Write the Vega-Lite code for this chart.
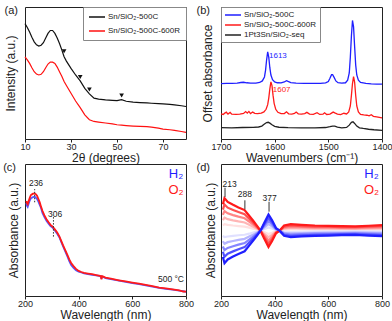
{
  "$schema": "https://vega.github.io/schema/vega-lite/v6.json",
  "background": "white",
  "padding": {"left": 2, "top": 4, "right": 0, "bottom": 0},
  "columns": 2,
  "spacing": {"row": -6, "column": 1},
  "resolve": {"scale": {"color": "independent"}, "legend": {"color": "independent"}},
  "config": {
    "view": {"stroke": "#222", "strokeWidth": 1},
    "axis": {"labelFont": "Liberation Sans", "titleFont": "Liberation Sans", "labelFontSize": 9, "titleFontSize": 12, "titleFontWeight": "normal", "labelColor": "#222", "titleColor": "#222", "grid": false, "domain": false, "tickColor": "#222", "tickSize": 3, "labelPadding": 0, "titlePadding": 1, "labelFlush": false, "labelOverlap": false},
    "axisY": {"labels": false, "ticks": false},
    "legend": {"labelFont": "Liberation Sans", "labelFontSize": 8, "labelColor": "#222", "symbolType": "M-1,0H3", "symbolSize": 64, "symbolStrokeWidth": 1.5, "labelOffset": 10, "strokeColor": "#888", "padding": 4, "offset": 0, "cornerRadius": 0, "rowPadding": 4, "title": null},
    "text": {"font": "Liberation Sans"}
  },
  "datasets": {
    "a_k": [{"x":10,"y":87.4},{"x":11,"y":84.5},{"x":12,"y":81},{"x":13,"y":77},{"x":14,"y":73.6},{"x":15,"y":71.3},{"x":16,"y":70.4},{"x":17,"y":71},{"x":18,"y":72.9},{"x":19,"y":76.5},{"x":20,"y":80},{"x":21,"y":82.2},{"x":22,"y":82.2},{"x":23,"y":80},{"x":24,"y":76.5},{"x":25,"y":72.4},{"x":26,"y":67.5},{"x":27,"y":62.3},{"x":28,"y":59},{"x":30,"y":53.5},{"x":32,"y":48.5},{"x":34,"y":44},{"x":36,"y":38.4},{"x":38,"y":34.2},{"x":40,"y":30.9},{"x":42,"y":30.2},{"x":45,"y":29.6},{"x":48,"y":29.3},{"x":50,"y":29.1},{"x":52,"y":29.8},{"x":54,"y":28.6},{"x":57,"y":28},{"x":60,"y":27.6},{"x":63,"y":27.3},{"x":65,"y":27.1},{"x":68,"y":26.8},{"x":70,"y":26.6},{"x":73,"y":26.2},{"x":75,"y":25.9},{"x":78,"y":25.2},{"x":80,"y":24.6}],
    "a_r": [{"x":10,"y":62.3},{"x":11,"y":60},{"x":12,"y":57.3},{"x":13,"y":54},{"x":14,"y":51},{"x":15,"y":49.2},{"x":16,"y":48.5},{"x":17,"y":49},{"x":18,"y":51},{"x":19,"y":54},{"x":20,"y":56.8},{"x":21,"y":58.3},{"x":22,"y":58.2},{"x":23,"y":57.3},{"x":24,"y":54.5},{"x":25,"y":51},{"x":26,"y":47.5},{"x":27,"y":43.5},{"x":28,"y":40.5},{"x":30,"y":34.7},{"x":32,"y":28.8},{"x":34,"y":23.8},{"x":36,"y":18.3},{"x":38,"y":14.6},{"x":40,"y":13.3},{"x":42,"y":12.8},{"x":45,"y":12.1},{"x":48,"y":11.4},{"x":50,"y":10.8},{"x":52,"y":10.5},{"x":54,"y":10.2},{"x":57,"y":9.8},{"x":60,"y":9.5},{"x":63,"y":9.3},{"x":65,"y":9},{"x":68,"y":8.2},{"x":70,"y":7.5},{"x":73,"y":7},{"x":75,"y":6.5},{"x":78,"y":5.7},{"x":80,"y":5}],
    "a_tri": [{"x":27,"y":66.5},{"x":34,"y":47},{"x":38,"y":37.5},{"x":52,"y":33}],
    "b_b": [{"x":1700,"y":42},{"x":1690,"y":42.1},{"x":1680,"y":42.2},{"x":1670,"y":42.4},{"x":1663,"y":42.8},{"x":1658,"y":43},{"x":1652,"y":42.6},{"x":1645,"y":42.3},{"x":1635,"y":42.3},{"x":1628,"y":42.8},{"x":1623,"y":44},{"x":1619,"y":47},{"x":1617,"y":52},{"x":1615,"y":60},{"x":1613,"y":66},{"x":1611,"y":62},{"x":1609,"y":54},{"x":1607,"y":48.5},{"x":1604,"y":45},{"x":1600,"y":43.2},{"x":1595,"y":42.6},{"x":1588,"y":42.5},{"x":1582,"y":43.2},{"x":1578,"y":44.2},{"x":1575,"y":43.6},{"x":1570,"y":42.7},{"x":1560,"y":42.4},{"x":1545,"y":42.2},{"x":1530,"y":42.1},{"x":1515,"y":42.1},{"x":1505,"y":42.5},{"x":1500,"y":43.6},{"x":1497,"y":46},{"x":1494,"y":48.7},{"x":1492,"y":48.8},{"x":1489,"y":46.5},{"x":1486,"y":44},{"x":1482,"y":42.7},{"x":1475,"y":42.3},{"x":1468,"y":42.6},{"x":1464,"y":44.5},{"x":1461,"y":50},{"x":1459,"y":62},{"x":1457,"y":78},{"x":1455,"y":89.8},{"x":1453,"y":85},{"x":1451,"y":70},{"x":1449,"y":56},{"x":1447,"y":48.5},{"x":1444,"y":44.5},{"x":1440,"y":42.8},{"x":1430,"y":42.1},{"x":1420,"y":41.8},{"x":1410,"y":41.6},{"x":1400,"y":41.5}],
    "b_r": [{"x":1700,"y":19},{"x":1696,"y":18.6},{"x":1693,"y":19.6},{"x":1690,"y":20.3},{"x":1687,"y":18.9},{"x":1683,"y":20.1},{"x":1680,"y":18.8},{"x":1672,"y":18.6},{"x":1665,"y":18.9},{"x":1658,"y":19.4},{"x":1654,"y":20.8},{"x":1651,"y":19.6},{"x":1648,"y":20.9},{"x":1645,"y":19.3},{"x":1641,"y":20.4},{"x":1637,"y":19.4},{"x":1632,"y":19.2},{"x":1625,"y":19.6},{"x":1620,"y":20.5},{"x":1616,"y":22.5},{"x":1613,"y":26},{"x":1611,"y":31},{"x":1609,"y":38},{"x":1607,"y":43.3},{"x":1605,"y":40.5},{"x":1603,"y":33},{"x":1601,"y":27},{"x":1598,"y":22.5},{"x":1594,"y":20.2},{"x":1588,"y":19.2},{"x":1582,"y":19.3},{"x":1578,"y":20.6},{"x":1574,"y":19.1},{"x":1568,"y":18.8},{"x":1563,"y":19.4},{"x":1560,"y":20.4},{"x":1556,"y":19.1},{"x":1550,"y":18.8},{"x":1544,"y":19.3},{"x":1540,"y":20.2},{"x":1535,"y":18.9},{"x":1528,"y":18.7},{"x":1521,"y":19.9},{"x":1516,"y":18.6},{"x":1510,"y":18.8},{"x":1507,"y":19.9},{"x":1503,"y":18.6},{"x":1497,"y":18.9},{"x":1491,"y":20.4},{"x":1487,"y":19.6},{"x":1483,"y":18.9},{"x":1477,"y":18.5},{"x":1471,"y":19.5},{"x":1466,"y":19},{"x":1462,"y":20.5},{"x":1459,"y":25},{"x":1457,"y":33},{"x":1455,"y":42},{"x":1453,"y":47.3},{"x":1451,"y":43},{"x":1449,"y":33},{"x":1447,"y":25},{"x":1444,"y":20.5},{"x":1440,"y":18.7},{"x":1434,"y":18.2},{"x":1428,"y":18},{"x":1424,"y":17.6},{"x":1420,"y":18.4},{"x":1416,"y":17.2},{"x":1410,"y":16.8},{"x":1405,"y":16.4},{"x":1400,"y":16}],
    "b_k": [{"x":1700,"y":8.6},{"x":1680,"y":8.5},{"x":1660,"y":8.7},{"x":1640,"y":8.8},{"x":1630,"y":9.1},{"x":1624,"y":9.8},{"x":1619,"y":11.3},{"x":1615,"y":12.5},{"x":1612,"y":12.7},{"x":1609,"y":12},{"x":1605,"y":10.8},{"x":1600,"y":9.6},{"x":1592,"y":8.9},{"x":1575,"y":8.6},{"x":1550,"y":8.5},{"x":1525,"y":8.5},{"x":1505,"y":8.7},{"x":1497,"y":9.3},{"x":1492,"y":9.8},{"x":1488,"y":9.7},{"x":1483,"y":9},{"x":1475,"y":8.5},{"x":1466,"y":8.8},{"x":1461,"y":10.5},{"x":1457,"y":12.6},{"x":1454,"y":13},{"x":1451,"y":11.8},{"x":1447,"y":9.8},{"x":1442,"y":8.5},{"x":1435,"y":8},{"x":1425,"y":7.4},{"x":1415,"y":7},{"x":1400,"y":6.6}],
    "c": [{"x":205,"H2":70.5,"O2":72},{"x":207,"H2":68.5,"O2":70.5},{"x":210,"H2":67.5,"O2":69.5},{"x":213,"H2":69.5,"O2":71.5},{"x":218,"H2":72.5,"O2":74.5},{"x":222,"H2":74,"O2":76.5},{"x":226,"H2":74.5,"O2":77},{"x":230,"H2":75,"O2":77.5},{"x":236,"H2":75.2,"O2":77.7},{"x":240,"H2":74.5,"O2":77.2},{"x":245,"H2":73.5,"O2":75.9},{"x":250,"H2":71.5,"O2":73.5},{"x":255,"H2":69,"O2":70.9},{"x":260,"H2":66.5,"O2":67.5},{"x":265,"H2":63,"O2":64.6},{"x":272,"H2":60,"O2":61.2},{"x":280,"H2":57,"O2":58.2},{"x":288,"H2":54.8,"O2":55.8},{"x":295,"H2":53,"O2":53.9},{"x":300,"H2":52.3,"O2":53},{"x":306,"H2":51,"O2":51.9},{"x":312,"H2":49.5,"O2":50.3},{"x":320,"H2":47.2,"O2":48.1},{"x":328,"H2":44.5,"O2":45.2},{"x":335,"H2":41,"O2":41.8},{"x":342,"H2":37.5,"O2":38.3},{"x":350,"H2":33.8,"O2":34.7},{"x":358,"H2":30,"O2":31.2},{"x":365,"H2":26.5,"O2":27.8},{"x":372,"H2":23.5,"O2":25},{"x":380,"H2":21.5,"O2":22.8},{"x":390,"H2":19.5,"O2":20.5},{"x":400,"H2":18.5,"O2":19},{"x":410,"H2":17.8,"O2":18.2},{"x":420,"H2":17.2,"O2":17.5},{"x":435,"H2":16.6,"O2":17},{"x":450,"H2":16,"O2":16.5},{"x":465,"H2":15.6,"O2":15.9},{"x":480,"H2":15,"O2":15.2},{"x":483,"H2":14.5,"O2":14.8},{"x":485,"H2":13,"O2":12.7},{"x":487,"H2":14.8,"O2":15},{"x":490,"H2":14.6,"O2":14.8},{"x":500,"H2":13.6,"O2":13.9},{"x":520,"H2":12.8,"O2":13.1},{"x":550,"H2":11.6,"O2":11.9},{"x":575,"H2":10.7,"O2":11},{"x":600,"H2":9.8,"O2":10.1},{"x":625,"H2":9,"O2":9.3},{"x":650,"H2":8.1,"O2":8.4},{"x":675,"H2":7.1,"O2":7.4},{"x":700,"H2":6.1,"O2":6.3},{"x":725,"H2":5.4,"O2":5.7},{"x":750,"H2":4.8,"O2":5.1},{"x":775,"H2":4,"O2":4.2},{"x":790,"H2":3.6,"O2":3.4},{"x":800,"H2":3.2,"O2":3.3}],
    "d": [
      {"x":207,"r10":69.5,"r8":65.5,"r6":61.5,"r4":57.5,"r2":53.5,"b2":45.5,"b4":41.5,"b6":37.5,"b8":33.5,"b10":29.5},
      {"x":213,"r10":74.2,"r8":69.3,"r6":64.3,"r4":59.4,"r2":54.4,"b2":44.6,"b4":39.6,"b6":34.7,"b8":29.7,"b10":24.8},
      {"x":225,"r10":71.3,"r8":66.9,"r6":62.6,"r4":58.2,"r2":53.9,"b2":45.1,"b4":40.8,"b6":36.4,"b8":32.1,"b10":27.7},
      {"x":245,"r10":69.1,"r8":65.2,"r6":61.3,"r4":57.3,"r2":53.4,"b2":45.6,"b4":41.7,"b6":37.7,"b8":33.8,"b10":29.9},
      {"x":265,"r10":67.1,"r8":63.6,"r6":60.1,"r4":56.5,"r2":53.0,"b2":46.0,"b4":42.5,"b6":38.9,"b8":35.4,"b10":31.9},
      {"x":288,"r10":65.1,"r8":62.0,"r6":58.9,"r4":55.7,"r2":52.6,"b2":46.4,"b4":43.3,"b6":40.1,"b8":37.0,"b10":33.9},
      {"x":305,"r10":60.8,"r8":58.5,"r6":56.3,"r4":54.0,"r2":51.8,"b2":47.2,"b4":45.0,"b6":42.7,"b8":40.5,"b10":38.2},
      {"x":320,"r10":57.0,"r8":55.5,"r6":54.0,"r4":52.5,"r2":51.0,"b2":48.0,"b4":46.5,"b6":45.0,"b8":43.5,"b10":42.0},
      {"x":335,"r10":53.0,"r8":52.3,"r6":51.6,"r4":50.9,"r2":50.2,"b2":48.8,"b4":48.1,"b6":47.4,"b8":46.7,"b10":46.0},
      {"x":347,"r10":49.5,"r8":49.5,"r6":49.5,"r4":49.5,"r2":49.5,"b2":49.5,"b4":49.5,"b6":49.5,"b8":49.5,"b10":49.5},
      {"x":360,"r10":44.0,"r8":45.1,"r6":46.2,"r4":47.3,"r2":48.4,"b2":50.6,"b4":51.7,"b6":52.8,"b8":53.9,"b10":55.0},
      {"x":377,"r10":37.2,"r8":39.7,"r6":42.1,"r4":44.6,"r2":47.0,"b2":52.0,"b4":54.4,"b6":56.9,"b8":59.3,"b10":61.8},
      {"x":390,"r10":41.5,"r8":43.1,"r6":44.7,"r4":46.3,"r2":47.9,"b2":51.1,"b4":52.7,"b6":54.3,"b8":55.9,"b10":57.5},
      {"x":405,"r10":47.5,"r8":47.9,"r6":48.3,"r4":48.7,"r2":49.1,"b2":49.9,"b4":50.3,"b6":50.7,"b8":51.1,"b10":51.5},
      {"x":418,"r10":49.5,"r8":49.5,"r6":49.5,"r4":49.5,"r2":49.5,"b2":49.5,"b4":49.5,"b6":49.5,"b8":49.5,"b10":49.5},
      {"x":435,"r10":53.4,"r8":52.6,"r6":51.8,"r4":51.1,"r2":50.3,"b2":48.7,"b4":47.9,"b6":47.2,"b8":46.4,"b10":45.6},
      {"x":460,"r10":54.4,"r8":53.4,"r6":52.4,"r4":51.5,"r2":50.5,"b2":48.5,"b4":47.5,"b6":46.6,"b8":45.6,"b10":44.6},
      {"x":500,"r10":53.9,"r8":53.0,"r6":52.1,"r4":51.3,"r2":50.4,"b2":48.6,"b4":47.7,"b6":46.9,"b8":46.0,"b10":45.1},
      {"x":550,"r10":53.4,"r8":52.6,"r6":51.8,"r4":51.1,"r2":50.3,"b2":48.7,"b4":47.9,"b6":47.2,"b8":46.4,"b10":45.6},
      {"x":600,"r10":53.2,"r8":52.5,"r6":51.7,"r4":51.0,"r2":50.2,"b2":48.8,"b4":48.0,"b6":47.3,"b8":46.5,"b10":45.8},
      {"x":650,"r10":52.9,"r8":52.2,"r6":51.5,"r4":50.9,"r2":50.2,"b2":48.8,"b4":48.1,"b6":47.5,"b8":46.8,"b10":46.1},
      {"x":700,"r10":52.7,"r8":52.1,"r6":51.4,"r4":50.8,"r2":50.1,"b2":48.9,"b4":48.2,"b6":47.6,"b8":46.9,"b10":46.3},
      {"x":750,"r10":53.2,"r8":52.5,"r6":51.7,"r4":51.0,"r2":50.2,"b2":48.8,"b4":48.0,"b6":47.3,"b8":46.5,"b10":45.8},
      {"x":800,"r10":53.7,"r8":52.9,"r6":52.0,"r4":51.2,"r2":50.3,"b2":48.7,"b4":47.8,"b6":47.0,"b8":46.1,"b10":45.3}
    ]
  },
  "concat": [
    {
      "width": 161, "height": 132,
      "layer": [
        {"data": {"name": "a_k"}, "mark": {"type": "line", "strokeWidth": 1.2},
         "encoding": {
           "x": {"field": "x", "type": "quantitative", "scale": {"domain": [10, 80], "nice": false}, "axis": {"title": "2θ (degrees)", "values": [10,15,20,25,30,35,40,45,50,55,60,65,70,75,80], "labelExpr": "datum.value % 10 == 0 ? datum.label : ''"}},
           "y": {"field": "y", "type": "quantitative", "scale": {"domain": [0, 100]}, "axis": {"title": "Intensity (a.u.)", "titlePadding": 8}},
           "color": {"datum": "Sn/SiO₂-500C", "type": "nominal", "scale": {"domain": ["Sn/SiO₂-500C", "Sn/SiO₂-500C-600R"], "range": ["#111111", "#ff1010"]}, "legend": {"orient": "top-right", "rowPadding": 5, "padding": 5}}
         }},
        {"data": {"name": "a_r"}, "mark": {"type": "line", "strokeWidth": 1.2},
         "encoding": {"x": {"field": "x", "type": "quantitative"}, "y": {"field": "y", "type": "quantitative"}, "color": {"datum": "Sn/SiO₂-500C-600R", "type": "nominal"}}},
        {"data": {"name": "a_tri"}, "mark": {"type": "point", "shape": "triangle-down", "filled": true, "color": "#111111", "size": 22, "opacity": 1},
         "encoding": {"x": {"field": "x", "type": "quantitative"}, "y": {"field": "y", "type": "quantitative"}}},
        {"data": {"values": [{"t": "(a)"}]}, "mark": {"type": "text", "fontSize": 11, "align": "right", "baseline": "middle", "dx": -7, "dy": 4, "color": "#222"},
         "encoding": {"x": {"datum": 10, "type": "quantitative"}, "y": {"datum": 100, "type": "quantitative"}, "text": {"field": "t"}}}
      ]
    },
    {
      "width": 161, "height": 132,
      "layer": [
        {"data": {"name": "b_b"}, "mark": {"type": "line", "strokeWidth": 1.3},
         "encoding": {
           "x": {"field": "x", "type": "quantitative", "scale": {"domain": [1400, 1700], "reverse": true, "nice": false, "zero": false}, "axis": {"title": "Wavenumbers (cm⁻¹)", "format": "d", "values": [1400,1450,1500,1550,1600,1650,1700], "labelExpr": "datum.value % 100 == 0 ? datum.label : ''"}},
           "y": {"field": "y", "type": "quantitative", "scale": {"domain": [0, 100]}, "axis": {"title": "Offset absorbance", "titlePadding": 7}},
           "color": {"datum": "Sn/SiO₂-500C", "type": "nominal", "scale": {"domain": ["Sn/SiO₂-500C", "Sn/SiO₂-500C-600R", "1Pt3Sn/SiO₂-seq"], "range": ["#1f1fff", "#ff1a1a", "#222222"]}, "legend": {"orient": "top-left", "rowPadding": 1, "padding": 3}}
         }},
        {"data": {"name": "b_r"}, "mark": {"type": "line", "strokeWidth": 1.3},
         "encoding": {"x": {"field": "x", "type": "quantitative"}, "y": {"field": "y", "type": "quantitative"}, "color": {"datum": "Sn/SiO₂-500C-600R", "type": "nominal"}}},
        {"data": {"name": "b_k"}, "mark": {"type": "line", "strokeWidth": 1.3},
         "encoding": {"x": {"field": "x", "type": "quantitative"}, "y": {"field": "y", "type": "quantitative"}, "color": {"datum": "1Pt3Sn/SiO₂-seq", "type": "nominal"}}},
        {"data": {"values": [{"x": 1594, "y": 62.6, "t": "1613", "c": "#1f1fff"}, {"x": 1587, "y": 36.9, "t": "1607", "c": "#ff1a1a"}]}, "mark": {"type": "text", "fontSize": 8, "align": "center", "baseline": "middle"},
         "encoding": {"x": {"field": "x", "type": "quantitative"}, "y": {"field": "y", "type": "quantitative"}, "text": {"field": "t"}, "color": {"field": "c", "type": "nominal", "scale": null}}},
        {"data": {"values": [{"t": "(b)"}]}, "mark": {"type": "text", "fontSize": 11, "align": "right", "baseline": "middle", "dx": -11, "dy": 4, "color": "#222"},
         "encoding": {"x": {"datum": 1700, "type": "quantitative"}, "y": {"datum": 100, "type": "quantitative"}, "text": {"field": "t"}}}
      ]
    },
    {
      "width": 161, "height": 132,
      "layer": [
        {"data": {"name": "c"}, "transform": [{"fold": ["H2", "O2"], "as": ["k", "v"]}], "mark": {"type": "line", "strokeWidth": 1.8},
         "encoding": {
           "x": {"field": "x", "type": "quantitative", "scale": {"domain": [200, 800], "nice": false}, "axis": {"title": "Wavelength (nm)", "values": [200,250,300,350,400,450,500,550,600,650,700,750,800], "labelExpr": "datum.value % 100 == 0 ? datum.label : ''"}},
           "y": {"field": "v", "type": "quantitative", "scale": {"domain": [0, 100]}, "axis": {"title": "Absorbance (a.u.)", "titlePadding": 5}},
           "color": {"field": "k", "type": "nominal", "scale": {"domain": ["H2", "O2"], "range": ["#5555ff", "#ff1a1a"]}, "legend": null}
         }},
        {"data": {"values": [{"x": 236, "y1": 71, "y2": 81}, {"x": 306, "y1": 45, "y2": 61}]}, "mark": {"type": "rule", "strokeDash": [1.5, 1.5], "color": "#333", "strokeWidth": 1},
         "encoding": {"x": {"field": "x", "type": "quantitative"}, "y": {"field": "y1", "type": "quantitative"}, "y2": {"field": "y2"}}},
        {"data": {"values": [{"x": 241, "y": 85.8, "t": "236"}, {"x": 312, "y": 61.9, "t": "306"}, {"x": 744, "y": 12.6, "t": "500 °C"}]}, "mark": {"type": "text", "fontSize": 8.5, "align": "center", "baseline": "middle", "color": "#222"},
         "encoding": {"x": {"field": "x", "type": "quantitative"}, "y": {"field": "y", "type": "quantitative"}, "text": {"field": "t"}}},
        {"data": {"values": [{"x": 763, "y": 92.2, "t": "H₂", "c": "#1f1fff"}, {"x": 763, "y": 80, "t": "O₂", "c": "#ff1a1a"}]}, "mark": {"type": "text", "fontSize": 13, "align": "center", "baseline": "middle"},
         "encoding": {"x": {"field": "x", "type": "quantitative"}, "y": {"field": "y", "type": "quantitative"}, "text": {"field": "t"}, "color": {"field": "c", "type": "nominal", "scale": null}}},
        {"data": {"values": [{"t": "(c)"}]}, "mark": {"type": "text", "fontSize": 11, "align": "right", "baseline": "middle", "dx": -9, "dy": 4, "color": "#222"},
         "encoding": {"x": {"datum": 200, "type": "quantitative"}, "y": {"datum": 100, "type": "quantitative"}, "text": {"field": "t"}}}
      ]
    },
    {
      "width": 161, "height": 132,
      "layer": [
        {"data": {"name": "d"}, "transform": [{"fold": ["r2", "b2", "r4", "b4", "r6", "b6", "r8", "b8", "r10", "b10"], "as": ["k", "v"]}], "mark": {"type": "line", "strokeWidth": 2.2},
         "encoding": {
           "x": {"field": "x", "type": "quantitative", "scale": {"domain": [200, 800], "nice": false}, "axis": {"title": "Wavelength (nm)", "values": [200,250,300,350,400,450,500,550,600,650,700,750,800], "labelExpr": "datum.value % 100 == 0 ? datum.label : ''"}},
           "y": {"field": "v", "type": "quantitative", "scale": {"domain": [0, 100]}, "axis": {"title": "Absorbance (a.u.)", "titlePadding": 4}},
           "color": {"field": "k", "type": "nominal", "scale": {"domain": ["r2", "b2", "r4", "b4", "r6", "b6", "r8", "b8", "r10", "b10"], "range": ["#ffe0e0", "#e0e0ff", "#ffb5b5", "#b5b5ff", "#ff8585", "#8585ff", "#ff5050", "#5050ff", "#ff1a1a", "#1f1fff"]}, "legend": null}
         }},
        {"data": {"values": [{"x": 215, "y1": 75, "y2": 82}, {"x": 289, "y1": 65.7, "y2": 72.5}, {"x": 379, "y1": 63.9, "y2": 71.4}]}, "mark": {"type": "rule", "color": "#333", "strokeWidth": 1},
         "encoding": {"x": {"field": "x", "type": "quantitative"}, "y": {"field": "y1", "type": "quantitative"}, "y2": {"field": "y2"}}},
        {"data": {"values": [{"x": 232, "y": 85, "t": "213"}, {"x": 289, "y": 77, "t": "288"}, {"x": 381, "y": 74.5, "t": "377"}]}, "mark": {"type": "text", "fontSize": 8.5, "align": "center", "baseline": "middle", "color": "#222"},
         "encoding": {"x": {"field": "x", "type": "quantitative"}, "y": {"field": "y", "type": "quantitative"}, "text": {"field": "t"}}},
        {"data": {"values": [{"x": 761, "y": 92.2, "t": "H₂", "c": "#1f1fff"}, {"x": 761, "y": 80, "t": "O₂", "c": "#ff1a1a"}]}, "mark": {"type": "text", "fontSize": 13, "align": "center", "baseline": "middle"},
         "encoding": {"x": {"field": "x", "type": "quantitative"}, "y": {"field": "y", "type": "quantitative"}, "text": {"field": "t"}, "color": {"field": "c", "type": "nominal", "scale": null}}},
        {"data": {"values": [{"t": "(d)"}]}, "mark": {"type": "text", "fontSize": 11, "align": "right", "baseline": "middle", "dx": -11, "dy": 4, "color": "#222"},
         "encoding": {"x": {"datum": 200, "type": "quantitative"}, "y": {"datum": 100, "type": "quantitative"}, "text": {"field": "t"}}}
      ]
    }
  ]
}
